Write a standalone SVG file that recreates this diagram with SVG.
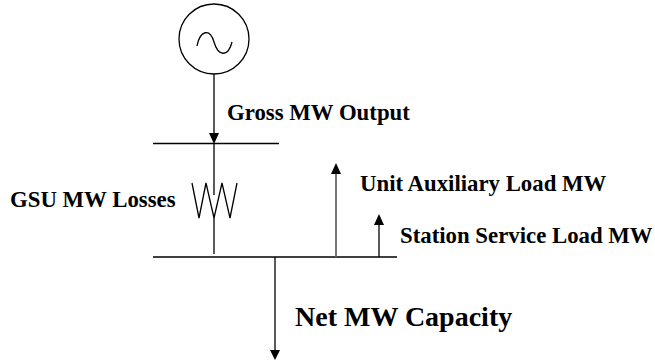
<svg xmlns="http://www.w3.org/2000/svg" width="655" height="362" viewBox="0 0 655 362">
<style>
.ln{stroke:#000;stroke-width:1.3;fill:none}
.gr{stroke:#666;stroke-width:1.8;fill:none}
.ah{fill:#000;stroke:none}
.lb{font-family:"Liberation Serif","Times New Roman",serif;font-weight:bold;font-size:22.8px;fill:#000}
.big{font-size:28px}
</style>
<rect width="655" height="362" fill="#fff"/>
<g id="generator">
<circle cx="214" cy="39" r="35" class="ln"/>
<path d="M197,46 C200,30 210,28 214,42 C218,56 228,58 232,42" class="ln"/>
</g>
<g id="gsu-bus">
<line x1="153" y1="143.5" x2="279" y2="143.5" class="ln"/>
</g>
<g id="gsu-resistor">
<line x1="214" y1="143.5" x2="214" y2="195" class="ln"/>
<polyline points="192,183 199,218 206,183 214,218 222,183 230,218 237,183" class="ln"/>
<line x1="214" y1="218" x2="214" y2="254" class="ln"/>
</g>
<g id="station-bus">
<line x1="153" y1="257" x2="397" y2="257" class="ln"/>
</g>
<g id="connectors">
<line x1="214" y1="74" x2="214" y2="134" class="ln"/>
<polygon points="209,133 219,133 214,144" class="ah"/>
<line x1="336" y1="257" x2="336" y2="172" class="gr"/>
<polygon points="331,174 341,174 336,163" class="ah"/>
<line x1="379" y1="257" x2="379" y2="224" class="ln"/>
<polygon points="374,225 384,225 379,214" class="ah"/>
<line x1="275" y1="257" x2="275" y2="351" class="ln"/>
<polygon points="270,350 280,350 275,360" class="ah"/>
</g>
<g id="labels">
<text x="227" y="120" class="lb">Gross MW Output</text>
<text x="10" y="207" class="lb">GSU MW Losses</text>
<text x="360" y="190.5" class="lb">Unit Auxiliary Load MW</text>
<text x="400" y="243" class="lb">Station Service Load MW</text>
<text x="295" y="326" class="lb big">Net MW Capacity</text>
</g>
</svg>
